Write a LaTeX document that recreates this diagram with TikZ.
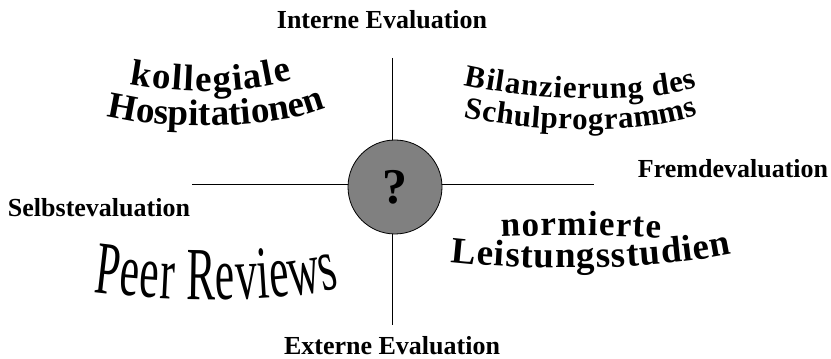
\documentclass[tikz,border=0pt]{standalone}
\usepackage{fontspec}
\setmainfont{Liberation Serif}
\newfontfamily\tallserif[FakeStretch=0.58]{Liberation Serif}
\usetikzlibrary{decorations.text}
\definecolor{discgray}{RGB}{128,128,128}

\begin{document}
\begin{tikzpicture}[x=1pt, y=1pt,
    axislabel/.style={font=\bfseries\fontsize{26}{28}\selectfont, anchor=base, inner sep=0pt},
    wordart/.style={decorate, decoration={text along path, text align=fit to path, text={#1}}}]
  \useasboundingbox (0,0) rectangle (831,359);

  % cross
  \coordinate (west) at (192,175);
  \coordinate (east) at (594,175);
  \coordinate (north) at (392,301);
  \coordinate (south) at (392,34);
  \draw[line width=0.9pt] (west) -- (east);
  \draw[line width=0.9pt] (north) -- (south);
  \node[circle, draw, line width=0.8pt, fill=discgray, minimum size=94pt, inner sep=0pt,
        font=\bfseries\fontsize{50}{50}\selectfont] (quest) at (395,172) {?};

  % axis labels
  \node[axislabel] (intern) at (382,330) {Interne Evaluation};
  \node[axislabel] (extern) at (392,4) {Externe Evaluation};
  \node[axislabel] (fremd) at (733,181) {Fremdevaluation};
  \node[axislabel] (selbst) at (99,142) {Selbstevaluation};

  % quadrants
  \path[wordart={|\bfseries\fontsize{37}{40}\selectfont|kollegiale}]
    (130,275) .. controls (185,265) and (240,265) .. (292,279);
  \path[wordart={|\bfseries\fontsize{37}{40}\selectfont|Hospitationen}]
    (107,243) .. controls (160,229) and (270,229) .. (324,250);
  \path[wordart={|\bfseries\fontsize{31}{34}\selectfont|Bilanzierung des}]
    (464,274) .. controls (530,259) and (640,253) .. (697,272);
  \path[wordart={|\bfseries\fontsize{31}{34}\selectfont|Schulprogramms}]
    (464,242) .. controls (530,227) and (640,223) .. (698,244);
  \path[wordart={|\tallserif\fontsize{75}{78}\selectfont|Peer Reviews}]
    (94,67) .. controls (170,57) and (280,55) .. (340,72);
  \path[wordart={|\bfseries\fontsize{35}{38}\selectfont|normierte}]
    (501,122) .. controls (550,124) and (610,124) .. (661,121);
  \path[wordart={|\bfseries\fontsize{37}{40}\selectfont|Leistungsstudien}]
    (451,97) .. controls (530,88) and (650,88) .. (732,105);
\end{tikzpicture}
\end{document}
